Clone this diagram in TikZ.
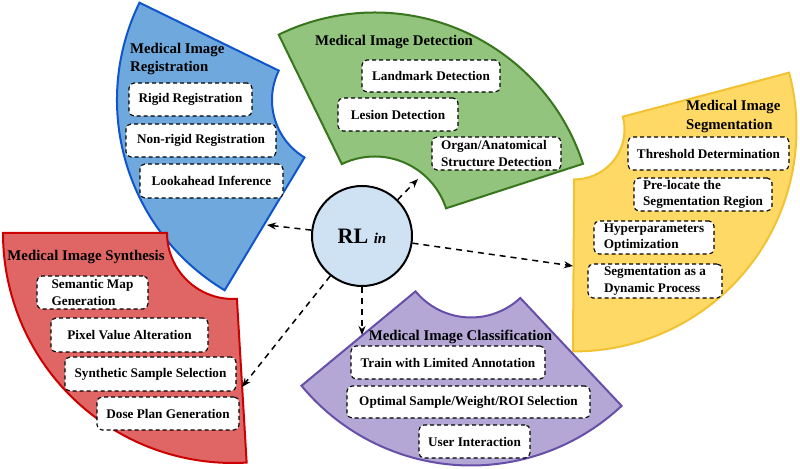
\documentclass[tikz,border=0pt]{standalone}
\usepackage{fontspec}
\setmainfont{Liberation Serif}
\usetikzlibrary{arrows.meta}
\definecolor{blueF}{HTML}{6FA8DC}\definecolor{blueD}{HTML}{1155CC}
\definecolor{greenF}{HTML}{93C47D}\definecolor{greenD}{HTML}{38761D}
\definecolor{yelF}{HTML}{FFD966}\definecolor{yelD}{HTML}{F1C232}
\definecolor{redF}{HTML}{E06666}\definecolor{redD}{HTML}{CC0000}
\definecolor{purF}{HTML}{B4A7D6}\definecolor{purD}{HTML}{674EA7}
\definecolor{rlF}{HTML}{CFE2F3}
\newcommand\itemfnt{\fontsize{13.2bp}{16.6bp}\selectfont\bfseries}
\newcommand\ttlfnt{\fontsize{14.8bp}{18.3bp}\selectfont\bfseries}
% center x, center y, inner r, outer r, start angle, end angle
\newcommand\ringsector[7]{%
  \draw[sec,#1] ([shift={(#2,#3)}]#6:#5bp) arc[start angle=#6,end angle=#7,radius=#5bp]
    -- ([shift={(#2,#3)}]#7:#4bp) arc[start angle=#7,end angle=#6,radius=#4bp] -- cycle;}
\tikzset{
  sec/.style={line width=2bp, line join=miter},
  item/.style={draw=black, fill=white, dash pattern=on 4bp off 3bp, rounded corners=5bp,
    line width=1.1bp, font=\itemfnt, align=left, inner sep=0pt, minimum height=33bp},
  ttl/.style={font=\ttlfnt, inner sep=0pt, align=left},
  conn/.style={dash pattern=on 6bp off 5bp, line width=1.5bp, -{Stealth[length=9bp,width=7bp]}},
}
\begin{document}
\begin{tikzpicture}[x=1bp,y=1bp]
\useasboundingbox (0,0) rectangle (800,469);
% sectors
\ringsector{draw=blueD,fill=blueF}{339}{369}{67}{222}{154}{239}
\ringsector{draw=greenD,fill=greenF}{374.7}{237.5}{75}{219}{18}{116}
\ringsector{draw=yelD,fill=yelF}{574.5}{339.6}{50}{222}{-90.4}{14.8}
\ringsector{draw=redD,fill=redF}{233}{236}{66}{230}{180}{273.4}
\ringsector{draw=purD,fill=purF}{471}{223.5}{72}{220}{219.6}{313.2}
% titles
\node[ttl,anchor=west] (tReg) at (130,410) {Medical Image\\Registration};
\node[ttl] (tDet) at (394,427) {Medical Image Detection};
\node[ttl,anchor=west] (tSeg) at (686,352.5) {Medical Image\\Segmentation};
\node[ttl] (tSyn) at (86,212) {Medical Image Synthesis};
\node[ttl] (tCls) at (460.5,132) {Medical Image Classification};
% registration
\node[item,minimum width=123bp] (b1) at (190.5,369.5) {Rigid Registration};
\node[item,minimum width=150bp] (b2) at (201,328.5) {Non-rigid Registration};
\node[item,minimum width=143bp,minimum height=34bp] (b3) at (211.5,288) {Lookahead Inference};
% detection
\node[item,minimum width=138bp,minimum height=32bp] (g1) at (431,393) {Landmark Detection};
\node[item,minimum width=120bp] (g2) at (398,354.5) {Lesion Detection};
\node[item,minimum width=129bp] (g3) at (496.5,315.5) {Organ/Anatomical\\Structure Detection};
% segmentation
\node[item,minimum width=161bp] (y1) at (708.5,315.5) {Threshold Determination};
\node[item,minimum width=138bp] (y2) at (703,274.5) {Pre-locate the\\Segmentation Region};
\node[item,minimum width=120bp] (y3) at (654,231.5) {Hyperparameters\\Optimization};
\node[item,minimum width=134bp,minimum height=34bp] (y4) at (655,188) {Segmentation as a\\Dynamic Process};
% synthesis
\node[item,minimum width=111bp] (r1) at (92.5,176.5) {Semantic Map\\Generation};
\node[item,minimum width=157bp,minimum height=34bp] (r2) at (129.5,134) {Pixel Value Alteration};
\node[item,minimum width=171bp,minimum height=34bp] (r3) at (150.5,95) {Synthetic Sample Selection};
\node[item,minimum width=142bp] (r4) at (168,55.5) {Dose Plan Generation};
% classification
\node[item,minimum width=194bp] (p1) at (448,106.5) {Train with Limited Annotation};
\node[item,minimum width=243bp,minimum height=32bp] (p2) at (468.5,67) {Optimal Sample/Weight/ROI Selection};
\node[item,minimum width=111bp] (p3) at (474.5,27.5) {User Interaction};
% center
\node[circle,draw=black,fill=rlF,line width=2bp,minimum size=100bp,inner sep=0pt] (rl) at (362,233)
  {\fontsize{22bp}{24bp}\selectfont\bfseries RL {\fontsize{15bp}{17bp}\selectfont\itshape in}};
% arrow ends
\coordinate (eReg) at (267,244);
\coordinate (eDet) at (418,290);
\coordinate (eSeg) at (573,203);
\coordinate (eSyn) at (242,82);
\coordinate (eCls) at (362,134);
\draw[conn] (rl) -- (eReg);
\draw[conn] (rl) -- (eDet);
\draw[conn] (rl) -- (eSeg);
\draw[conn] (rl) -- (eSyn);
\draw[conn] (rl) -- (eCls);
\end{tikzpicture}
\end{document}
